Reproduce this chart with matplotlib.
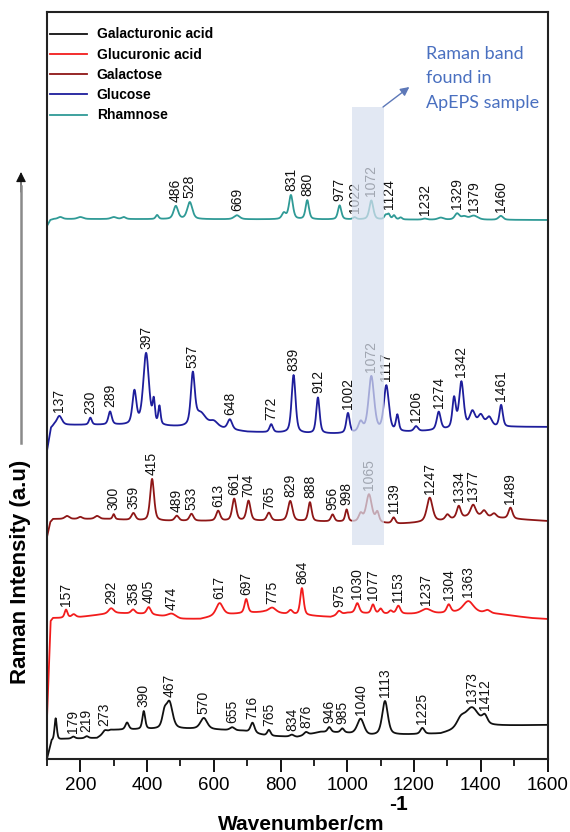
import numpy as np
import matplotlib
matplotlib.use("Agg")
import matplotlib.pyplot as plt
from matplotlib.patches import FancyArrowPatch
from matplotlib.lines import Line2D
from matplotlib.ticker import MultipleLocator

plt.rcParams['font.family'] = ['Liberation Sans', 'DejaVu Sans']

# ---------------------------------------------------------------- data
wavenumber = np.arange(100, 1601, 1.0)

series_names = ["Galacturonic acid", "Glucuronic acid", "Galactose", "Glucose", "Rhamnose"]
series_colors = ["#111111", "#f21c1c", "#8e1616", "#1e1e9c", "#2f9a96"]

# Galacturonic acid
galact_acid_peaks = [179, 219, 273, 390, 467, 570, 655, 716, 765, 834, 876, 946, 985, 1040, 1113, 1225, 1373, 1412]
galact_acid_heights = [2, 2, 3, 18, 26, 11, 3, 10, 6, 2, 3, 5, 4, 16, 34, 6, 20, 8]
galact_acid_widths = [6, 6, 7, 5, 11, 12, 8, 7, 6, 7, 7, 6, 6, 12, 10, 7, 24, 9]
galact_acid_bands = [126, 340, 452, 1340]
galact_acid_band_heights = [22, 7, 14, 8]
galact_acid_band_widths = [4, 6, 8, 14]
galact_acid_base_x = [100, 114, 150, 250, 290, 490, 560, 690, 760, 850, 920, 990, 1060, 1140, 1280, 1330, 1420, 1600]
galact_acid_base_y = [-20, -2, 0, 1, 9, 10, 10, 8, 3, 2, 7, 6, 3, 4, 5, 9, 13, 14]

# Glucuronic acid
glucur_peaks = [157, 292, 358, 405, 474, 617, 697, 775, 864, 975, 1030, 1077, 1153, 1237, 1304, 1363]
glucur_heights = [8, 5, 4, 7, 4, 12, 14, 5, 27, 4, 10, 9, 8, 5, 8, 11]
glucur_widths = [5, 9, 7, 7, 15, 12, 6, 13, 6, 7, 7, 6, 7, 18, 7, 18]
glucur_bands = [180, 830, 1100, 1130, 1420]
glucur_band_heights = [3, 4, 5, 3, 3]
glucur_band_widths = [7, 7, 6, 6, 10]
glucur_base_x = [100, 111, 118, 140, 200, 300, 400, 500, 560, 620, 750, 850, 950, 1000, 1100, 1250, 1350, 1450, 1550, 1600]
glucur_base_y = [-100, -3, 0, 0, 1, 5, 4, -1, -1, 3, 6, 3, 1, 5, 4, 4, 6, 4, 0, -1]

# Galactose
galactose_peaks = [300, 359, 415, 489, 533, 613, 661, 704, 765, 829, 888, 956, 998, 1065, 1139, 1247, 1334, 1377, 1489]
galactose_heights = [5, 7, 42, 5, 7, 10, 22, 20, 8, 20, 19, 7, 12, 28, 6, 24, 12, 11, 11]
galactose_widths = [4, 7, 7, 7, 7, 7, 7, 7, 7, 8, 6, 6, 5, 10, 6, 10, 7, 9, 7]
galactose_bands = [160, 200, 250, 1040, 1090, 1300, 1410, 1440]
galactose_band_heights = [3, 2, 3, 8, 10, 5, 6, 4]
galactose_band_widths = [8, 7, 8, 7, 6, 7, 8, 8]
galactose_base_x = [100, 110, 118, 280, 400, 600, 800, 1000, 1150, 1200, 1280, 1380, 1450, 1600]
galactose_base_y = [-18, -3, 0, 0, -2, -2, -2, -3, -5, -4, -2, 3, 1, -2]

# Glucose
glucose_peaks = [137, 230, 289, 397, 537, 648, 772, 839, 912, 1002, 1072, 1117, 1206, 1274, 1342, 1461]
glucose_heights = [9, 7, 13, 72, 50, 10, 8, 58, 36, 20, 56, 46, 5, 18, 46, 22]
glucose_widths = [9, 5, 6, 10, 7, 8, 6, 7, 6, 6, 10, 9, 7, 7, 8, 6]
glucose_bands = [362, 420, 437, 560, 600, 1040, 1150, 1320, 1375, 1400, 1425]
glucose_band_heights = [33, 22, 18, 14, 6, 10, 16, 30, 16, 12, 10]
glucose_band_widths = [7, 4, 4, 20, 14, 8, 5, 6, 10, 10, 10]
glucose_base_x = [100, 112, 122, 300, 480, 620, 700, 900, 1000, 1200, 1300, 1500, 1600]
glucose_base_y = [-26, -3, 0, 0, -2, -4, -7, -9, -9, -7, -5, -2, -2]

# Rhamnose
rhamnose_peaks = [486, 528, 669, 831, 880, 977, 1022, 1072, 1124, 1232, 1329, 1379, 1460]
rhamnose_heights = [13, 17, 4, 24, 19, 14, 2, 19, 5, 1, 6, 4, 4]
rhamnose_widths = [8, 9, 10, 7, 6, 6, 6, 7, 5, 7, 8, 14, 8]
rhamnose_bands = [140, 200, 300, 330, 430, 810, 1115, 1140, 1160, 1280, 1350]
rhamnose_band_heights = [2, 2, 2, 2, 4, 6, 4, 4, 2, 2, 3]
rhamnose_band_widths = [8, 10, 10, 7, 5, 7, 5, 5, 5, 10, 10]
rhamnose_base_x = [100, 110, 120, 1000, 1600]
rhamnose_base_y = [-7, -1, 0, -0.5, -1]

spectra = [
    (galact_acid_peaks, galact_acid_heights, galact_acid_widths,
     galact_acid_bands, galact_acid_band_heights, galact_acid_band_widths,
     galact_acid_base_x, galact_acid_base_y),
    (glucur_peaks, glucur_heights, glucur_widths,
     glucur_bands, glucur_band_heights, glucur_band_widths,
     glucur_base_x, glucur_base_y),
    (galactose_peaks, galactose_heights, galactose_widths,
     galactose_bands, galactose_band_heights, galactose_band_widths,
     galactose_base_x, galactose_base_y),
    (glucose_peaks, glucose_heights, glucose_widths,
     glucose_bands, glucose_band_heights, glucose_band_widths,
     glucose_base_x, glucose_base_y),
    (rhamnose_peaks, rhamnose_heights, rhamnose_widths,
     rhamnose_bands, rhamnose_band_heights, rhamnose_band_widths,
     rhamnose_base_x, rhamnose_base_y),
]

# vertical stacking of the traces
stack_offsets = [20, 141, 240, 334, 540]

# region of the Raman band of the ApEPS sample
band_region = (1013, 1111)


def line_shape(x, centre, height, hwhm, eta=0.5):
    """pseudo-Voigt band profile"""
    lor = 1.0 / (1.0 + ((x - centre) / hwhm) ** 2)
    gau = np.exp(-np.log(2) * ((x - centre) / hwhm) ** 2)
    return height * (eta * lor + (1 - eta) * gau)


def build_trace(peaks, heights, widths, bands, bheights, bwidths, bx, by):
    y = np.interp(wavenumber, bx, by)
    for c, h, w in zip(list(peaks) + list(bands), list(heights) + list(bheights),
                       list(widths) + list(bwidths)):
        y = y + line_shape(wavenumber, c, h, w)
    return y


# ---------------------------------------------------------------- figure
fig = plt.figure(figsize=(5.7, 8.32), dpi=100)
ax = fig.add_axes([47 / 570, 73 / 832, 500.5 / 570, 747 / 832])

for name, color, offset, spec in zip(series_names, series_colors, stack_offsets, spectra):
    trace = build_trace(*spec) + offset
    ax.plot(wavenumber, trace, color=color, lw=1.3, label=name, zorder=2)
    for pk in spec[0]:
        yv = trace[int(round(pk - wavenumber[0]))]
        ax.text(pk, yv + 4, str(pk), rotation=90, ha='center', va='bottom',
                fontsize=10, color='#111111', zorder=3)

ax.axvspan(band_region[0], band_region[1], ymin=214 / 747, ymax=652 / 747,
           facecolor='#d8e0ef', alpha=0.72, edgecolor='none', zorder=5)

ax.annotate('', xy=(1186, 672), xytext=(1107, 652),
            arrowprops=dict(arrowstyle='-|>', color='#5d78b8', lw=1.0,
                            mutation_scale=13, shrinkA=0, shrinkB=0), zorder=6)
ax.text(1236, 713, "Raman band\nfound in\nApEPS sample", color='#4a70c0',
        fontsize=13, family=['Lato', 'DejaVu Sans'], ha='left', va='top',
        linespacing=1.65, zorder=6)

ax.set_xlim(100, 1600)
ax.set_ylim(0, 747)
ax.set_yticks([])
ax.xaxis.set_major_locator(MultipleLocator(200))
ax.xaxis.set_minor_locator(MultipleLocator(100))
ax.set_xticks(np.arange(200, 1601, 200))
ax.tick_params(axis='x', which='major', direction='out', length=9, width=1.3,
               labelsize=13.5, pad=4)
ax.tick_params(axis='x', which='minor', direction='out', length=5, width=1.2)
for s in ax.spines.values():
    s.set_linewidth(1.5)
    s.set_color('#222222')

leg = ax.legend(loc='upper left', bbox_to_anchor=(0.0, 0.983), frameon=False,
                borderaxespad=0, borderpad=0.2, handlelength=2.66,
                handletextpad=0.72, labelspacing=0.45,
                prop={'weight': 'bold', 'size': 10})

fig.text(301 / 570, 1 - 824 / 832, "Wavenumber/cm", fontsize=15, fontweight='bold',
         ha='center', va='center')
fig.text(399 / 570, 1 - 805 / 832, "-1", fontsize=15, fontweight='bold',
         ha='center', va='center')

fig.text(21 / 570, 1 - 572 / 832, "Raman Intensity (a.u)", fontsize=16, fontweight='bold',
         rotation=90, ha='center', va='center')

# intensity arrow: grey shaft, black head
fig.add_artist(Line2D([21 / 570, 21 / 570], [1 - 443 / 832, 1 - 186 / 832],
                      color='#8a8a8a', lw=1.8, transform=fig.transFigure))
fig.patches.append(FancyArrowPatch(
    (21, 832 - 192), (21, 832 - 172), transform=None, arrowstyle='-|>',
    mutation_scale=15, color='#111111', lw=0.8, shrinkA=0, shrinkB=0))

fig.savefig("out.png", dpi=100)
